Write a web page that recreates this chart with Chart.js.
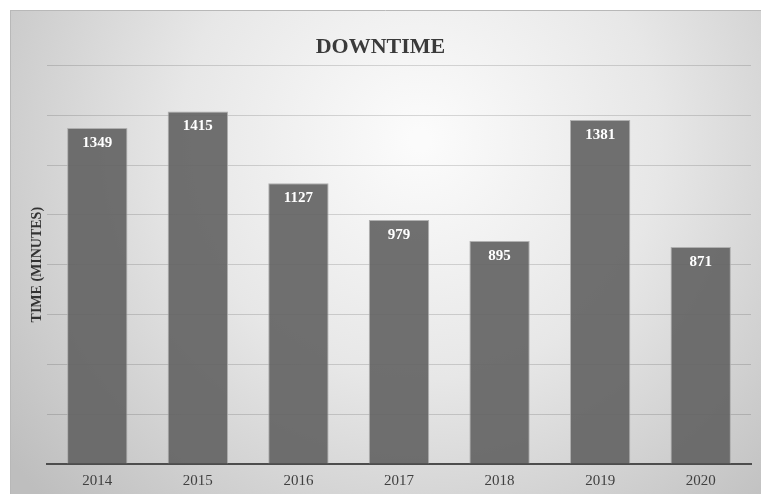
<!DOCTYPE html>
<html><head><meta charset="utf-8">
<style>html,body{margin:0;padding:0;background:#fff;}#wrap{width:761px;height:494px;}</style>
<script src="https://cdn.jsdelivr.net/npm/chart.js@4.4.1/dist/chart.umd.min.js"></script>
</head><body><div id="wrap"><canvas id="c" width="761" height="494"></canvas></div>
<script>
const years = ['2014','2015','2016','2017','2018','2019','2020'];
const downtime = [1349, 1415, 1127, 979, 895, 1381, 871];
const yMax = 1600;
const yStep = 200;

const SERIF = '"Liberation Serif", "Times New Roman", serif';

const bgPlugin = {
  id: 'bg',
  beforeDraw(chart) {
    const ctx = chart.ctx;
    ctx.save();
    ctx.fillStyle = '#ffffff';
    ctx.fillRect(0, 0, chart.width, chart.height);
    const g = ctx.createRadialGradient(420, 140, 10, 420, 140, 520);
    g.addColorStop(0, '#fbfbfb');
    g.addColorStop(0.45, '#e7e7e7');
    g.addColorStop(1, '#bebebe');
    ctx.fillStyle = g;
    ctx.fillRect(10, 10, chart.width - 10, chart.height - 10);
    ctx.strokeStyle = '#b8b8b8';
    ctx.lineWidth = 1;
    ctx.beginPath();
    ctx.moveTo(10, 10.5); ctx.lineTo(chart.width, 10.5);
    ctx.moveTo(10.5, 10); ctx.lineTo(10.5, chart.height);
    ctx.stroke();
    ctx.restore();
  }
};

const labelPlugin = {
  id: 'vals',
  afterDatasetsDraw(chart) {
    const ctx = chart.ctx;
    const meta = chart.getDatasetMeta(0);
    ctx.save();
    ctx.fillStyle = '#ffffff';
    ctx.font = 'bold 15px ' + SERIF;
    ctx.textAlign = 'center';
    ctx.textBaseline = 'middle';
    meta.data.forEach((bar, i) => {
      ctx.fillText(String(downtime[i]), bar.x, bar.y + 15);
    });
    ctx.restore();
  }
};

new Chart(document.getElementById('c'), {
  type: 'bar',
  data: {
    labels: years,
    datasets: [{
      data: downtime,
      backgroundColor: 'rgba(100,100,100,0.92)',
      borderColor: 'rgba(170,170,170,0.9)',
      borderWidth: 1,
      borderSkipped: 'bottom',
      categoryPercentage: 1.0,
      barPercentage: 0.6
    }]
  },
  options: {
    responsive: false,
    animation: false,
    layout: { padding: { left: 10, right: 10, top: 10, bottom: 0 } },
    plugins: {
      legend: { display: false },
      tooltip: { enabled: false },
      title: {
        display: true,
        text: 'DOWNTIME',
        color: '#3a3a3a',
        font: { family: SERIF, size: 22, weight: 'bold' },
        padding: { top: 24, bottom: 5 }
      }
    },
    scales: {
      x: {
        afterFit(scale) { scale.height = 30; },
        grid: { display: false, drawTicks: false },
        border: { display: true, color: '#4d4d4d', width: 2 },
        ticks: { color: '#404040', font: { family: SERIF, size: 15 }, padding: 8 }
      },
      y: {
        min: 0,
        max: yMax,
        z: 1,
        afterFit(scale) { scale.width = 37; },
        ticks: { display: false, stepSize: yStep },
        grid: { color: 'rgba(0,0,0,0.14)', lineWidth: 1, drawTicks: false },
        border: { display: false },
        title: {
          display: true,
          text: 'TIME (MINUTES)',
          color: '#333333',
          font: { family: SERIF, size: 14, weight: 'bold' },
          padding: { top: 18.6, bottom: 0 }
        }
      }
    }
  },
  plugins: [bgPlugin, labelPlugin]
});
</script></body></html>
